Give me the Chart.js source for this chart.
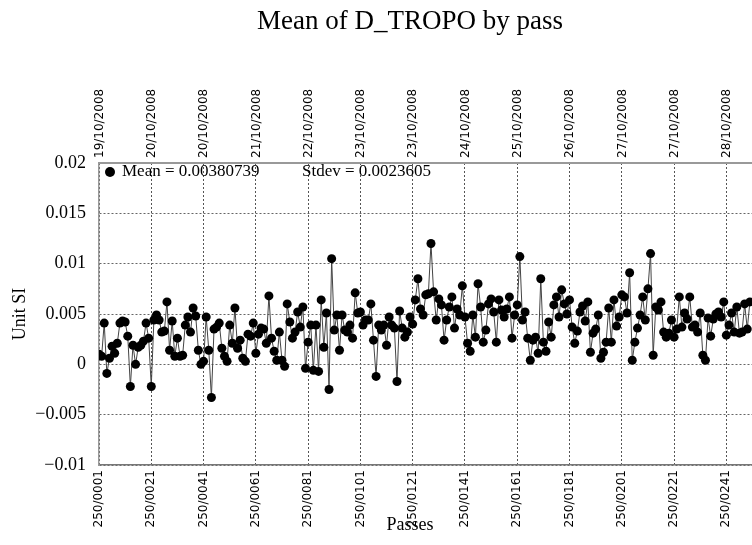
<!DOCTYPE html>
<html>
<head>
<meta charset="utf-8">
<title>Mean of D_TROPO by pass</title>
<script src="https://cdn.jsdelivr.net/npm/chart.js@4.4.0/dist/chart.umd.min.js"></script>
<style>
  html, body { margin: 0; padding: 0; background: #fff; overflow: hidden; }
  canvas { display: block; }
</style>
</head>
<body>
<canvas id="tropoChart" width="820" height="545"></canvas>
<script>
// mean of D_TROPO for each pass (pass 0001 first)
const meanValues = [
    0.0010, 0.0008, 0.0041, -0.0009, 0.0006, 0.0018, 0.0011, 0.0021, 0.0041, 0.0043,
    0.0042, 0.0028, -0.0022, 0.0019, 0.0000, 0.0017, 0.0019, 0.0023, 0.0041, 0.0026,
    -0.0022, 0.0044, 0.0049, 0.0044, 0.0032, 0.0033, 0.0062, 0.0014, 0.0043, 0.0008,
    0.0026, 0.0008, 0.0009, 0.0039, 0.0047, 0.0032, 0.0056, 0.0048, 0.0014, 0.0000,
    0.0003, 0.0047, 0.0014, -0.0033, 0.0035, 0.0037, 0.0041, 0.0016, 0.0008, 0.0003,
    0.0039, 0.0021, 0.0056, 0.0016, 0.0024, 0.0006, 0.0003, 0.0030, 0.0028, 0.0041,
    0.0011, 0.0030, 0.0036, 0.0035, 0.0021, 0.0068, 0.0026, 0.0013, 0.0004, 0.0032,
    0.0004, -0.0002, 0.0060, 0.0042, 0.0026, 0.0032, 0.0052, 0.0037, 0.0057, -0.0004,
    0.0022, 0.0039, -0.0006, 0.0039, -0.0007, 0.0064, 0.0017, 0.0051, -0.0025, 0.0105,
    0.0034, 0.0049, 0.0014, 0.0049, 0.0034, 0.0032, 0.0039, 0.0026, 0.0071, 0.0051,
    0.0052, 0.0039, 0.0044, 0.0044, 0.0060, 0.0024, -0.0012, 0.0039, 0.0034, 0.0039,
    0.0019, 0.0047, 0.0039, 0.0036, -0.0017, 0.0053, 0.0036, 0.0027, 0.0032, 0.0047,
    0.0040, 0.0064, 0.0085, 0.0055, 0.0049, 0.0069, 0.0070, 0.0120, 0.0072, 0.0044,
    0.0065, 0.0059, 0.0024, 0.0044, 0.0057, 0.0067, 0.0036, 0.0055, 0.0049, 0.0078,
    0.0047, 0.0021, 0.0013, 0.0049, 0.0027, 0.0080, 0.0057, 0.0022, 0.0034, 0.0060,
    0.0065, 0.0052, 0.0022, 0.0064, 0.0054, 0.0047, 0.0055, 0.0067, 0.0026, 0.0049,
    0.0059, 0.0107, 0.0044, 0.0052, 0.0026, 0.0004, 0.0024, 0.0027, 0.0011, 0.0085,
    0.0022, 0.0013, 0.0042, 0.0027, 0.0059, 0.0067, 0.0047, 0.0074, 0.0060, 0.0050,
    0.0064, 0.0037, 0.0021, 0.0033, 0.0052, 0.0058, 0.0043, 0.0062, 0.0012, 0.0031,
    0.0035, 0.0049, 0.0006, 0.0012, 0.0022, 0.0056, 0.0022, 0.0064, 0.0038, 0.0047,
    0.0069, 0.0067, 0.0051, 0.0091, 0.0004, 0.0022, 0.0036, 0.0049, 0.0067, 0.0044,
    0.0075, 0.0110, 0.0009, 0.0057, 0.0054, 0.0062, 0.0032, 0.0027, 0.0031, 0.0044,
    0.0027, 0.0035, 0.0067, 0.0037, 0.0051, 0.0045, 0.0067, 0.0037, 0.0039, 0.0032,
    0.0051, 0.0009, 0.0004, 0.0046, 0.0028, 0.0045, 0.0050, 0.0052, 0.0047, 0.0062,
    0.0029, 0.0039, 0.0051, 0.0032, 0.0057, 0.0031, 0.0032, 0.0060, 0.0035, 0.0062
];

const passTicks = ['250/0001', '250/0021', '250/0041', '250/0061', '250/0081', '250/0101', '250/0121',
    '250/0141', '250/0161', '250/0181', '250/0201', '250/0221', '250/0241'];
const dateTicks = ['19/10/2008', '20/10/2008', '20/10/2008', '21/10/2008', '22/10/2008', '23/10/2008', '23/10/2008',
    '24/10/2008', '25/10/2008', '26/10/2008', '27/10/2008', '27/10/2008', '28/10/2008'];
const yTickLabels = ['\u22120.01', '\u22120.005', '0', '0.005', '0.01', '0.015', '0.02'];

const meanText = 'Mean = 0.00380739';
const stdevText = 'Stdev = 0.0023605';
const xTitle = 'Passes';

const serif = '"Liberation Serif", "Times New Roman", serif';
Chart.defaults.font.family = serif;
Chart.defaults.color = '#000';

let points = [];
for (let i = 0; i < meanValues.length; i++) {
    points.push({ x: i, y: meanValues[i] });
}

// legend box inside the plot and the x title centred on the page, as in the original
const statsLegend = {
    id: 'statsLegend',
    afterDraw(chart) {
        const { ctx, chartArea } = chart;
        const y = chartArea.top + 9;
        ctx.save();
        ctx.fillStyle = '#000';
        ctx.textBaseline = 'middle';
        ctx.font = '17px ' + serif;
        ctx.beginPath();
        ctx.arc(chartArea.left + 11, y, 5, 0, Math.PI * 2);
        ctx.fill();
        ctx.fillText(meanText, chartArea.left + 23, y);
        ctx.fillText(stdevText, chartArea.left + 203, y);
        ctx.font = '18px ' + serif;
        ctx.textAlign = 'center';
        ctx.fillText(xTitle, chart.width / 2, chartArea.bottom + 60);
        ctx.restore();
    }
};

const xMax = 274.1;
const dotted = [2, 2];

const config = {
    type: 'line',
    data: {
        datasets: [{
            label: meanText,
            data: points,
            borderColor: '#444',
            borderWidth: 1,
            pointRadius: 4.5,
            pointBackgroundColor: '#000',
            pointBorderWidth: 0,
            pointStyle: 'circle',
            tension: 0
        }]
    },
    options: {
        responsive: false,
        devicePixelRatio: 1,
        animation: false,
        events: [],
        layout: { padding: 0 },
        scales: {
            x: {
                type: 'linear',
                position: 'bottom',
                min: 0,
                max: xMax,
                afterFit: (scale) => { scale.height = 80; },
                ticks: {
                    stepSize: 20,
                    includeBounds: false,
                    autoSkip: false,
                    minRotation: 90,
                    maxRotation: 90,
                    padding: 5,
                    font: { family: '"DejaVu Sans", sans-serif', size: 12 },
                    callback: (value, index) => passTicks[index] || ''
                },
                grid: { color: '#555', lineWidth: 1, drawTicks: false },
                border: { display: true, color: '#777', width: 1.5, dash: dotted }
            },
            xTop: {
                type: 'linear',
                position: 'top',
                min: 0,
                max: xMax,
                afterFit: (scale) => { scale.height = 124.6; },
                ticks: {
                    stepSize: 20,
                    includeBounds: false,
                    autoSkip: false,
                    minRotation: 90,
                    maxRotation: 90,
                    padding: 5,
                    labelOffset: 15,
                    font: { family: '"DejaVu Sans", sans-serif', size: 12 },
                    callback: (value, index) => dateTicks[index] || ''
                },
                grid: { drawOnChartArea: false, drawTicks: false },
                border: { display: true, color: '#999', width: 2 }
            },
            y: {
                min: -0.01,
                max: 0.02,
                afterFit: (scale) => { scale.width = 99; },
                ticks: {
                    stepSize: 0.005,
                    padding: 13,
                    font: { size: 18 },
                    callback: (value, index) => yTickLabels[index]
                },
                grid: { color: '#666', lineWidth: 1, drawTicks: false },
                border: { display: true, color: '#999', width: 1.5, dash: dotted },
                title: {
                    display: true,
                    text: 'Unit SI',
                    font: { size: 18 },
                    padding: { top: 9, bottom: 0 }
                }
            }
        },
        plugins: {
            title: {
                display: true,
                text: 'Mean of D_TROPO by pass',
                font: { size: 27, weight: 'normal' },
                padding: { top: 6, bottom: 0 }
            },
            legend: { display: false },
            tooltip: { enabled: false }
        }
    },
    plugins: [statsLegend]
};

const ctx = document.getElementById('tropoChart');
const tropoChart = new Chart(ctx, config);
</script>
</body>
</html>
